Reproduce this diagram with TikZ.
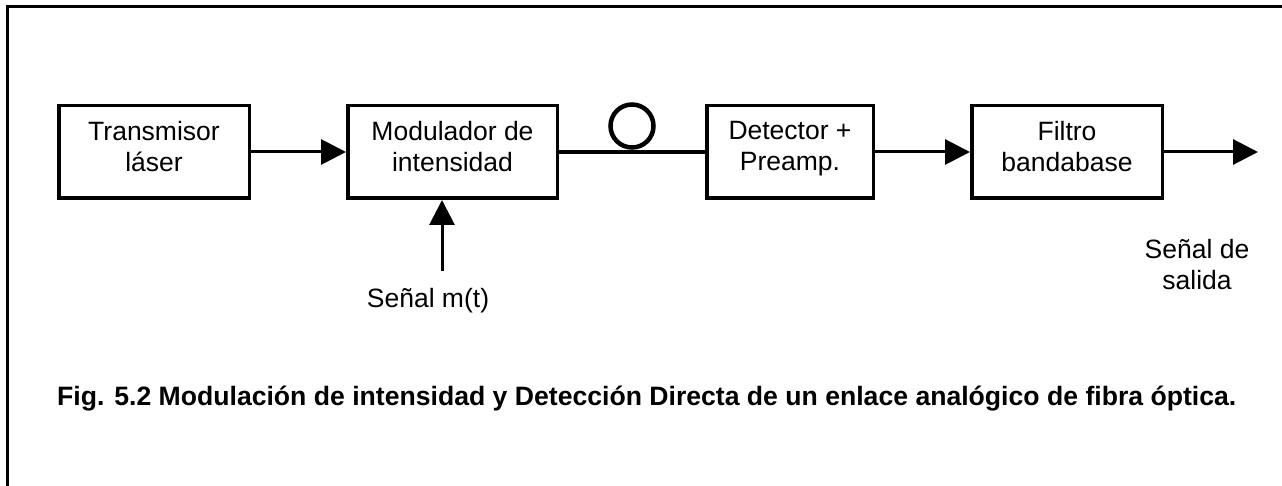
\documentclass[tikz,border=0pt]{standalone}
\usepackage{fontspec}
\setmainfont{Liberation Sans}
\usetikzlibrary{arrows.meta}
\begin{document}
\begin{tikzpicture}[x=1pt,y=-1pt,
  blk/.style={draw,line width=3.5pt,minimum width=#1,minimum height=92.5pt,inner sep=0pt,align=center,text depth=12pt,font=\fontsize{26.5}{31}\selectfont},
  arr/.style={line width=3pt,-{Triangle[length=25pt,width=25pt]}},
  lbl/.style={align=center,font=\fontsize{26.5}{31}\selectfont,inner sep=0pt}]
\useasboundingbox (0,0) rectangle (1282,486);
\draw[line width=3pt] (7,486) -- (7,7) -- (1282,7);
\node[blk=190.5pt] (tx) at (154,152) {Transmisor\\láser};
\node[blk=209.5pt] (mod) at (452.5,152) {Modulador de\\intensidad};
\node[blk=166.5pt] (det) at (790,152) {Detector +\\Preamp.};
\node[blk=190.5pt] (fil) at (1067,152) {Filtro\\bandabase};
\draw[arr] (tx) -- (mod);
\draw[line width=4.5pt] (mod) -- (det);
\node[draw,circle,line width=4.5pt,minimum size=43pt,inner sep=0pt] (loop) at (632,126) {};
\draw[arr] (det) -- (fil);
\coordinate (out) at (1258,152);
\draw[arr] (fil) -- (out);
\coordinate (sig) at (442,271);
\draw[arr] (sig) -- (sig |- mod.south);
\node[lbl,anchor=base] (min) at (428,307) {Señal m(t)};
\node[lbl,anchor=base] (sout) at (1197,290) {Señal de\\salida};
\node[anchor=base west,inner sep=0pt,font=\fontsize{26.6}{31}\selectfont\bfseries] (cap) at (57,405) {Fig. 5.2 Modulación de intensidad y Detección Directa de un enlace analógico de fibra óptica.};
\end{tikzpicture}
\end{document}
